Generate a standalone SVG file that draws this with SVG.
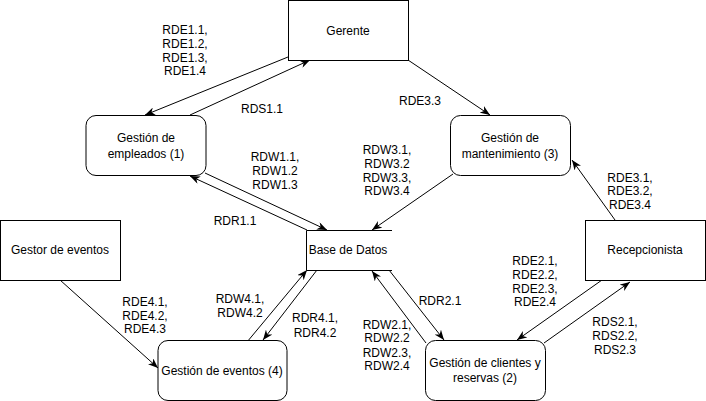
<svg xmlns="http://www.w3.org/2000/svg" width="706" height="401" viewBox="0 0 706 401">
<style>
.box{fill:#fff;stroke:#000;stroke-width:1}
.t{font-family:"Liberation Sans",Arial,sans-serif;font-size:12px;fill:#000;text-anchor:middle;dominant-baseline:central}
.e{fill:none;stroke:#000;stroke-width:1;marker-end:url(#arr)}
</style>
<defs>
<marker id="arr" markerUnits="userSpaceOnUse" markerWidth="10" markerHeight="8" refX="10" refY="4" orient="auto">
<path d="M0,0 L10,4 L0,8 L3,4 Z" fill="#000"/>
</marker>
</defs>
<rect width="706" height="401" fill="#fff"/>
<g id="connectors">
<line class="e" x1="288" y1="57" x2="145" y2="115"/>
<line class="e" x1="190" y1="115" x2="310" y2="60"/>
<line class="e" x1="408" y1="60" x2="490" y2="115"/>
<line class="e" x1="205" y1="173" x2="327" y2="230"/>
<line class="e" x1="307" y1="230" x2="190" y2="176"/>
<line class="e" x1="453" y1="174" x2="372" y2="230"/>
<line class="e" x1="615" y1="220" x2="572" y2="160"/>
<line class="e" x1="60" y1="280" x2="158" y2="368"/>
<line class="e" x1="247" y1="342" x2="307" y2="270"/>
<line class="e" x1="317" y1="270" x2="263" y2="340"/>
<line class="e" x1="389" y1="270" x2="444" y2="340"/>
<line class="e" x1="426" y1="343" x2="372" y2="271"/>
<line class="e" x1="602" y1="280" x2="517" y2="340"/>
<line class="e" x1="544" y1="343" x2="630" y2="282"/>
</g>
<g id="gerente">
<rect class="box" x="288.5" y="0.5" width="120" height="60"/>
<text class="t" x="348" y="31">Gerente</text>
</g>
<g id="gestion-empleados">
<rect class="box" x="86" y="115.5" width="120" height="60" rx="10"/>
<text class="t" x="146" y="138">Gestión de</text>
<text class="t" x="146" y="154">empleados (1)</text>
</g>
<g id="gestion-mantenimiento">
<rect class="box" x="450.5" y="115.5" width="120" height="60" rx="10"/>
<text class="t" x="510" y="138">Gestión de</text>
<text class="t" x="510" y="154">mantenimiento (3)</text>
</g>
<g id="gestor-eventos">
<rect class="box" x="0.5" y="220.5" width="120" height="60"/>
<text class="t" x="60" y="250">Gestor de eventos</text>
</g>
<g id="base-datos">
<rect x="306.5" y="230.5" width="86" height="40" fill="#fff"/>
<path d="M392,230.5 H306.5 V270.5 H392" fill="none" stroke="#000" stroke-width="1"/>
<text class="t" x="348" y="250">Base de Datos</text>
</g>
<g id="recepcionista">
<rect class="box" x="585.5" y="220.5" width="120" height="60"/>
<text class="t" x="645" y="250">Recepcionista</text>
</g>
<g id="gestion-eventos">
<rect class="box" x="158" y="340.5" width="129" height="60" rx="10"/>
<text class="t" x="222" y="371">Gestión de eventos (4)</text>
</g>
<g id="gestion-clientes">
<rect class="box" x="425.5" y="340.5" width="120" height="60" rx="10"/>
<text class="t" x="485" y="363">Gestión de clientes y</text>
<text class="t" x="485" y="378">reservas (2)</text>
</g>
<g id="labels">
<text class="t" x="185" y="30">RDE1.1,</text>
<text class="t" x="185" y="44">RDE1.2,</text>
<text class="t" x="185" y="58">RDE1.3,</text>
<text class="t" x="185" y="71">RDE1.4</text>
<text class="t" x="262" y="109">RDS1.1</text>
<text class="t" x="275" y="157">RDW1.1,</text>
<text class="t" x="275" y="171">RDW1.2</text>
<text class="t" x="275" y="185">RDW1.3</text>
<text class="t" x="420" y="101">RDE3.3</text>
<text class="t" x="387" y="150">RDW3.1,</text>
<text class="t" x="387" y="164">RDW3.2</text>
<text class="t" x="387" y="178">RDW3.3,</text>
<text class="t" x="387" y="191">RDW3.4</text>
<text class="t" x="630" y="178">RDE3.1,</text>
<text class="t" x="630" y="191">RDE3.2,</text>
<text class="t" x="630" y="205">RDE3.4</text>
<text class="t" x="235" y="221">RDR1.1</text>
<text class="t" x="145" y="302">RDE4.1,</text>
<text class="t" x="145" y="316">RDE4.2,</text>
<text class="t" x="145" y="329">RDE4.3</text>
<text class="t" x="240" y="299">RDW4.1,</text>
<text class="t" x="240" y="313">RDW4.2</text>
<text class="t" x="315" y="318">RDR4.1,</text>
<text class="t" x="315" y="333">RDR4.2</text>
<text class="t" x="440" y="301">RDR2.1</text>
<text class="t" x="387" y="325">RDW2.1,</text>
<text class="t" x="387" y="338">RDW2.2</text>
<text class="t" x="387" y="353">RDW2.3,</text>
<text class="t" x="387" y="366">RDW2.4</text>
<text class="t" x="535" y="261">RDE2.1,</text>
<text class="t" x="535" y="275">RDE2.2,</text>
<text class="t" x="535" y="289">RDE2.3,</text>
<text class="t" x="535" y="302">RDE2.4</text>
<text class="t" x="615" y="322">RDS2.1,</text>
<text class="t" x="615" y="336">RDS2.2,</text>
<text class="t" x="615" y="350">RDS2.3</text>
</g>
</svg>
